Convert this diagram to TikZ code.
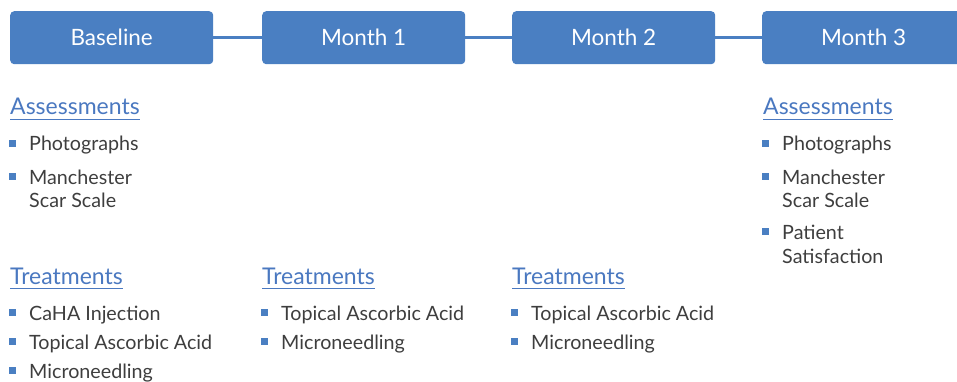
\documentclass[tikz,border=0pt]{standalone}
\usepackage{fontspec}
\setmainfont{Lato}
\definecolor{boxblue}{HTML}{4A7FC2}
\definecolor{headblue}{HTML}{4A78C0}
\definecolor{txtgray}{HTML}{3E3E3E}
\begin{document}
\begin{tikzpicture}[x=1pt,y=-1pt,
  stage/.style={fill=boxblue,rounded corners=4pt,minimum width=203pt,minimum height=53pt,text=white,font=\fontsize{22.5}{26}\selectfont,anchor=north west,inner sep=0pt},
  link/.style={draw=boxblue,line width=3.5pt},
  head/.style={anchor=base west,inner sep=0pt,text=headblue,font=\fontsize{23}{27}\selectfont},
  item/.style={anchor=base west,inner sep=0pt,text=txtgray,font=\fontsize{19.7}{24}\selectfont},
  bul/.style={fill=boxblue,minimum size=7pt,inner sep=0pt}
]
\useasboundingbox (0,0) rectangle (957,382);
\node[stage] (b0) at (10,11) {Baseline};
\node[stage] (b1) at (262,11) {Month 1};
\node[stage] (b2) at (512,11) {Month 2};
\node[stage] (b3) at (762,11) {Month 3};
\draw[link] (b0.east) -- (b1.west);
\draw[link] (b1.east) -- (b2.west);
\draw[link] (b2.east) -- (b3.west);

\newcommand{\heading}[4]{%
  \node[head] (#1) at (#2,#3) {#4};
  \draw[headblue,line width=1pt] ([yshift=-4.5pt]#1.base west) -- ([yshift=-4.5pt]#1.base east);
}
\newcommand{\bitem}[4]{%
  \node[item] (#1) at (#2+19,#3) {#4};
  \node[bul] (#1b) at (#2+2,#3-7.5) {};
}
\newcommand{\cont}[4]{%
  \node[item] (#1) at (#2+19,#3) {#4};
}

% Baseline column
\heading{a0}{10}{115}{Assessments}
\bitem{a0i1}{10}{151}{Photographs}
\bitem{a0i2}{10}{184}{Manchester}
\cont{a0i2c}{10}{207}{Scar Scale}
\heading{t0}{10}{284}{Treatments}
\bitem{t0i1}{10}{320}{CaHA Injection}
\bitem{t0i2}{10}{349}{Topical Ascorbic Acid}
\bitem{t0i3}{10}{378}{Microneedling}

% Month 1
\heading{t1}{262}{284}{Treatments}
\bitem{t1i1}{262}{320}{Topical Ascorbic Acid}
\bitem{t1i2}{262}{349}{Microneedling}

% Month 2
\heading{t2}{512}{284}{Treatments}
\bitem{t2i1}{512}{320}{Topical Ascorbic Acid}
\bitem{t2i2}{512}{349}{Microneedling}

% Month 3
\heading{a3}{763}{115}{Assessments}
\bitem{a3i1}{763}{151}{Photographs}
\bitem{a3i2}{763}{184}{Manchester}
\cont{a3i2c}{763}{207}{Scar Scale}
\bitem{a3i3}{763}{239}{Patient}
\cont{a3i3c}{763}{263}{Satisfaction}
\end{tikzpicture}
\end{document}
